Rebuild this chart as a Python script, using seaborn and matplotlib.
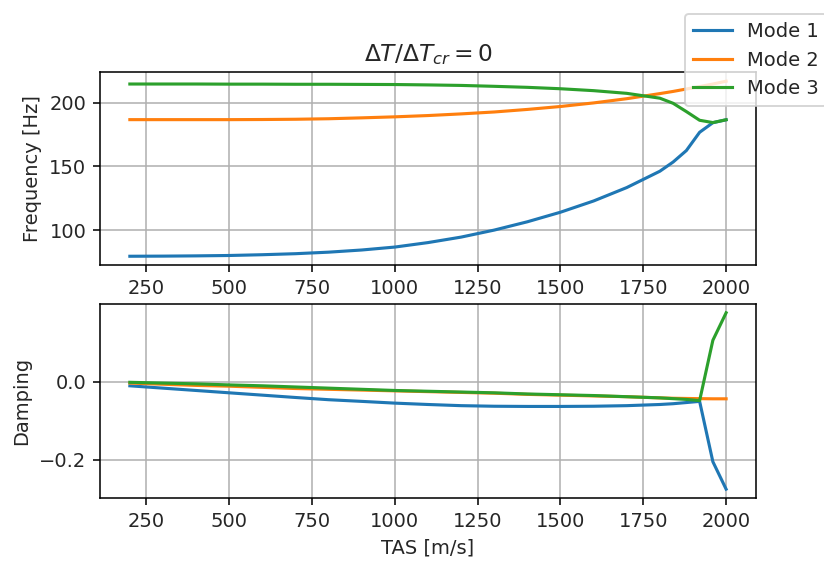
import numpy as np
import pandas as pd
import matplotlib
matplotlib.use("Agg")
import matplotlib.pyplot as plt
import seaborn as sns

# ---- data ----
tas = [200, 300, 400, 500, 600, 700, 800, 900, 1000, 1100, 1200, 1300, 1400,
       1500, 1600, 1700, 1800, 1840, 1880, 1920, 1960, 2000]

freq_mode1 = [79.7, 79.8, 80.0, 80.3, 80.9, 81.7, 82.9, 84.6, 86.9, 90.4, 94.7,
              100.2, 106.7, 114.2, 123.0, 133.5, 146.3, 153.5, 162.5, 176.8, 184.3, 186.6]
freq_mode2 = [186.7, 186.7, 186.7, 186.7, 186.8, 187.0, 187.4, 188.1, 188.9, 189.9, 191.2,
              192.7, 194.7, 197.0, 199.8, 203.1, 207.1, 208.8, 210.7, 212.6, 214.6, 216.8]
freq_mode3 = [214.6, 214.6, 214.6, 214.5, 214.5, 214.4, 214.4, 214.3, 214.2, 213.9, 213.5,
              212.8, 212.0, 210.9, 209.4, 207.3, 203.5, 199.5, 193.0, 186.2, 184.4, 186.6]

damp_mode1 = [-0.010, -0.016, -0.022, -0.028, -0.034, -0.040, -0.0457, -0.050, -0.0545,
              -0.058, -0.061, -0.0625, -0.063, -0.063, -0.0625, -0.061, -0.058, -0.056,
              -0.053, -0.050, -0.205, -0.2755]
damp_mode2 = [-0.003, -0.006, -0.009, -0.011, -0.014, -0.017, -0.019, -0.021, -0.023,
              -0.025, -0.027, -0.029, -0.032, -0.034, -0.036, -0.038, -0.041, -0.042,
              -0.0425, -0.043, -0.0434, -0.0434]
damp_mode3 = [-0.001, -0.003, -0.005, -0.0077, -0.010, -0.013, -0.016, -0.019, -0.022,
              -0.024, -0.026, -0.028, -0.031, -0.033, -0.035, -0.038, -0.041, -0.043,
              -0.045, -0.048, 0.107, 0.1776]

mode_labels = ["Mode 1", "Mode 2", "Mode 3"]
xticks = [250, 500, 750, 1000, 1250, 1500, 1750, 2000]
freq_ticks = [100, 150, 200]
damp_ticks = [-0.2, 0.0]

# ---- style ----
plt.rcParams.update({
    "font.family": ["DejaVu Sans"],
    "font.size": 10,
    "axes.grid": True,
    "grid.color": "#b0b0b0",
    "grid.linewidth": 0.8,
    "axes.edgecolor": "black",
    "axes.linewidth": 0.8,
    "text.color": "#262626",
    "axes.labelcolor": "#262626",
    "xtick.labelcolor": "#262626",
    "ytick.labelcolor": "#262626",
})
colors = ["#1f77b4", "#ff7f0e", "#2ca02c"]

DPI = 140
fig = plt.figure(figsize=(824 / DPI, 563 / DPI), dpi=DPI)
ax1 = fig.add_axes([0.1214, 0.5293, 0.7960, 0.3420])
ax2 = fig.add_axes([0.1214, 0.1155, 0.7960, 0.3446])

freqs = [freq_mode1, freq_mode2, freq_mode3]
damps = [damp_mode1, damp_mode2, damp_mode3]

for lab, c, f, d in zip(mode_labels, colors, freqs, damps):
    sns.lineplot(x=tas, y=f, ax=ax1, color=c, label=lab, linewidth=1.6)
    sns.lineplot(x=tas, y=d, ax=ax2, color=c, label=lab, linewidth=1.6)

for ax in (ax1, ax2):
    leg = ax.get_legend()
    if leg is not None:
        leg.remove()
    ax.set_xticks(xticks)
    ax.set_axisbelow(True)

ax1.set_yticks(freq_ticks)
ax2.set_yticks(damp_ticks)
ax2.set_yticklabels(["\u22120.2", "0.0"])

ax1.set_ylabel("Frequency [Hz]")
ax2.set_ylabel("Damping")
ax2.set_xlabel("TAS [m/s]")
ax1.set_title(r"$\Delta T/\Delta T_{cr} = 0$")

handles, labels = ax1.get_legend_handles_labels()
fig.legend(handles, labels, loc="upper left",
           bbox_to_anchor=(685 / 824, 1 - 14 / 563), borderaxespad=0)

fig.savefig("out.png", dpi=DPI)
